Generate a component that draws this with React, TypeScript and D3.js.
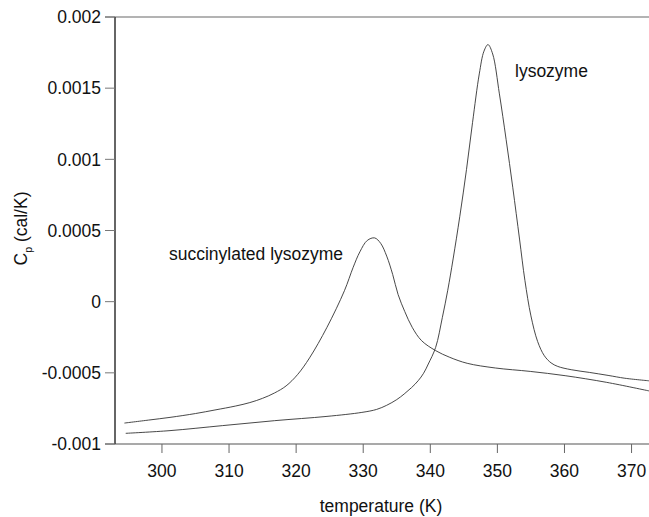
import React from "react";
import * as d3 from "d3";

// Heat capacity scans (temperature in K, Cp in cal/K)
const lysozymeT = [294.6, 301.2, 309.0, 316.8, 324.6, 329.8, 332.0, 333.5, 335.0, 336.1, 337.2, 338.2, 339.0, 339.7, 340.8, 341.8, 342.6, 343.4, 344.4, 345.4, 346.3, 347.3, 348.0, 348.6, 349.3, 350.3, 351.3, 352.3, 353.3, 354.1, 355.0, 356.0, 357.0, 358.0, 359.0, 361.0, 363.7, 366.5, 369.0, 372.6];
const lysozymeCp = [-0.000925, -0.000906, -0.000871, -0.000836, -0.000806, -0.000778, -0.000757, -0.000728, -0.000688, -0.000649, -0.000604, -0.000555, -0.000503, -0.000438, -0.000321, -0.00011, 0.00008, 0.0003, 0.0006, 0.00093, 0.00126, 0.0016, 0.00176, 0.001806, 0.00174, 0.00146, 0.00114, 0.0008, 0.00044, 0.00015, -0.0001, -0.00028, -0.00038, -0.00043, -0.000455, -0.000478, -0.000497, -0.000518, -0.000538, -0.000556];

const succinylT = [294.4, 298.0, 301.2, 305.0, 307.9, 311.0, 313.1, 315.0, 316.8, 318.5, 320.2, 322.0, 324.6, 327.2, 328.5, 329.5, 330.6, 331.7, 332.6, 333.5, 334.4, 335.2, 336.2, 337.3, 338.7, 340.8, 342.9, 345.5, 349.7, 354.9, 360.1, 366.3, 372.6];
const succinylCp = [-0.000853, -0.000832, -0.000813, -0.000786, -0.000761, -0.000733, -0.000709, -0.000679, -0.000641, -0.000592, -0.000513, -0.000395, -0.00018, 0.000077, 0.000241, 0.00035, 0.00043, 0.000448, 0.00041, 0.00032, 0.00019, 0.00005, -0.00007, -0.00018, -0.000274, -0.000344, -0.000391, -0.000433, -0.000466, -0.00049, -0.00052, -0.000567, -0.000627];

const xTicks = [300, 310, 320, 330, 340, 350, 360, 370];
const yTicks = [0.002, 0.0015, 0.001, 0.0005, 0, -0.0005, -0.001];
const yTickLabels = ["0.002", "0.0015", "0.001", "0.0005", "0", "-0.0005", "-0.001"];

const W = 649;
const H = 517;
const FONT = "'Liberation Sans', Arial, sans-serif";

export default function App() {
  const x = d3.scaleLinear().domain([293, 372.6]).range([115, 649]);
  const y = d3.scaleLinear().domain([-0.001, 0.002]).range([444, 17]);

  const line = d3
    .line<[number, number]>()
    .x((d) => x(d[0]))
    .y((d) => y(d[1]))
    .curve(d3.curveCatmullRom.alpha(0.5));

  const lysozyme = lysozymeT.map((t, i) => [t, lysozymeCp[i]] as [number, number]);
  const succinyl = succinylT.map((t, i) => [t, succinylCp[i]] as [number, number]);

  const left = 115;
  const bottom = 444;
  const top = 17;

  return (
    <svg
      width={W}
      height={H}
      style={{ position: "absolute", left: 0, top: 0, background: "#fff" }}
      fontFamily={FONT}
    >
      {/* frame: top rule and axes */}
      <line x1={105} x2={W} y1={top} y2={top} stroke="#9a9a9a" strokeWidth={1.6} />
      <line x1={105} x2={W} y1={bottom} y2={bottom} stroke="#555" strokeWidth={1.2} />
      <line x1={left} x2={left} y1={top} y2={bottom} stroke="#333" strokeWidth={1.5} />

      {/* y ticks */}
      {yTicks.map((v, i) => (
        <g key={"y" + i}>
          <line x1={105} x2={left} y1={y(v)} y2={y(v)} stroke="#777" strokeWidth={1} />
          <text
            x={101}
            y={y(v)}
            dy="0.36em"
            textAnchor="end"
            fontSize={17.5}
            fill="#111"
          >
            {yTickLabels[i]}
          </text>
        </g>
      ))}

      {/* x ticks */}
      {xTicks.map((t) => (
        <g key={"x" + t}>
          <line x1={x(t)} x2={x(t)} y1={bottom} y2={bottom + 9} stroke="#666" strokeWidth={1} />
          <text x={x(t)} y={476.5} textAnchor="middle" fontSize={17.5} fill="#111">
            {t}
          </text>
        </g>
      ))}

      {/* axis titles */}
      <text x={381} y={512} textAnchor="middle" fontSize={17.5} fill="#111">
        temperature (K)
      </text>
      <text
        transform="translate(26.5,228.5) rotate(-90)"
        textAnchor="middle"
        fontSize={17.5}
        fill="#111"
      >
        C
        <tspan fontSize={10.5} dy={5}>p</tspan>
        <tspan dy={-5}> (cal/K)</tspan>
      </text>

      {/* curves */}
      <path d={line(succinyl) ?? ""} fill="none" stroke="#333" strokeWidth={0.9} />
      <path d={line(lysozyme) ?? ""} fill="none" stroke="#333" strokeWidth={0.9} />

      {/* curve labels */}
      <text x={169} y={260} fontSize={17.5} fill="#111">
        succinylated lysozyme
      </text>
      <text x={515} y={77} fontSize={17.5} fill="#111">
        lysozyme
      </text>
    </svg>
  );
}
